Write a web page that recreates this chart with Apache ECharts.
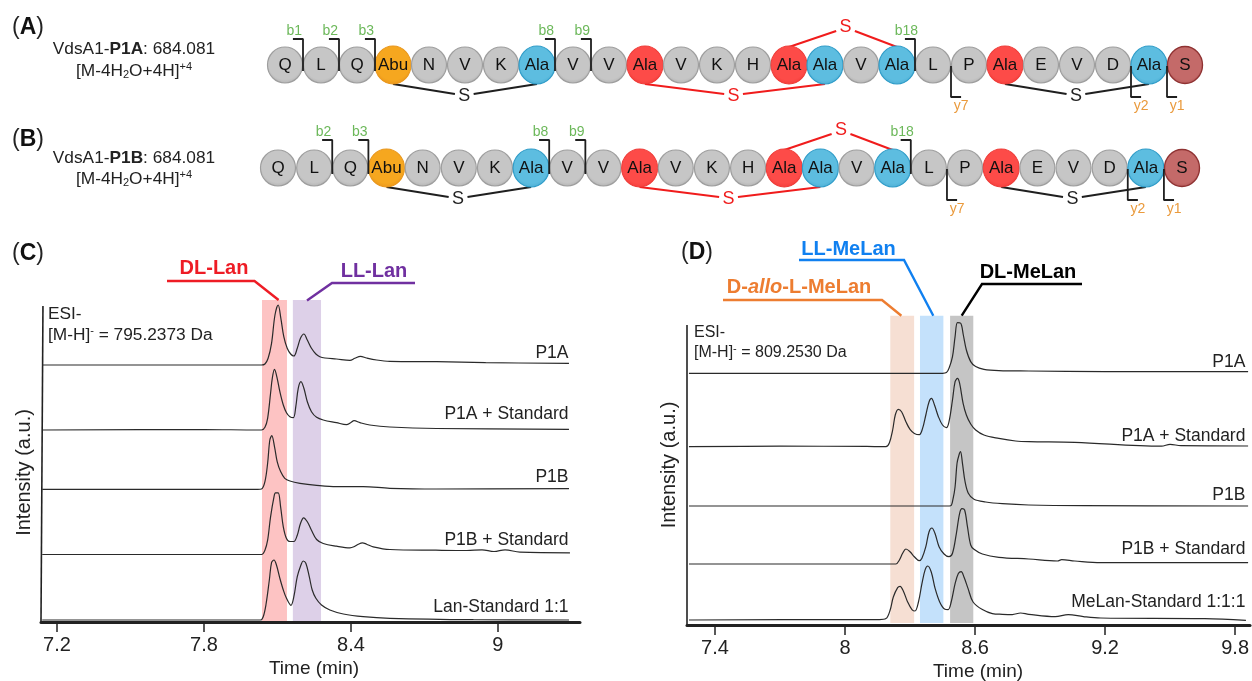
<!DOCTYPE html>
<html><head><meta charset="utf-8">
<style>html,body{margin:0;padding:0;background:#fff}#c{width:1252px;height:681px}</style>
<script src="https://cdn.jsdelivr.net/npm/echarts@6/dist/echarts.min.js"></script>
</head><body><div id="c"></div>
<script>
// ---------- Peptide schematic data ----------
const residues = ['Q','L','Q','Abu','N','V','K','Ala','V','V','Ala','V','K','H','Ala','Ala','V','Ala','L','P','Ala','E','V','D','Ala','S'];
const orangeIdx = [3];
const blueIdx = [7,15,17,24];
const redIdx = [10,14,20];
const brownIdx = [25];
const bridges = [
  {from:3, to:7, s:4.98, side:1, color:'#1f1f1f'},
  {from:10, to:15, s:12.46, side:1, color:'#f01c1c'},
  {from:14, to:17, s:15.57, side:-1, color:'#f01c1c'},
  {from:20, to:24, s:21.97, side:1, color:'#1f1f1f'}
];
const bIonsA = [['b1',0.5],['b2',1.5],['b3',2.5],['b8',7.5],['b9',8.5],['b18',17.5]];
const bIonsB = [['b2',1.5],['b3',2.5],['b8',7.5],['b9',8.5],['b18',17.5]];
const yIons = [['y7',18.5],['y2',23.5],['y1',24.5]];

// ---------- Panel C traces: [time (min), signal] ----------
const cTicks = [7.2,7.8,8.4,9];
const cNames = ['P1A','P1A + Standard','P1B','P1B + Standard','Lan-Standard 1:1'];
const cOffsets = [257,192,132.7,67.5,2];
const cLabelY = [269,208,145,82,15];
const cP1A = [[7.14,0],[7.8,0],[8.02,0],[8.035,0],[8.049,1],[8.062,6.7],[8.076,21.7],[8.09,50],[8.103,60],[8.114,46.7],[8.126,28.3],[8.14,16.7],[8.154,11],[8.167,9],[8.181,16.7],[8.194,26.7],[8.208,31],[8.222,25],[8.239,16.7],[8.257,11],[8.273,8.3],[8.294,7],[8.341,6],[8.396,4.7],[8.416,6.7],[8.439,8.7],[8.464,7],[8.505,5],[8.559,3.7],[8.75,3.3],[8.95,2.3],[9.29,1.7]];
const cP1AStd = [[7.14,0],[7.8,0.5],[8.02,0],[8.035,0],[8.049,2.7],[8.06,11.7],[8.072,36.7],[8.079,51.7],[8.088,60.7],[8.099,51.7],[8.11,38.3],[8.124,25],[8.137,17.3],[8.151,13.3],[8.165,12.3],[8.175,23.3],[8.185,41.7],[8.196,48.3],[8.208,41.7],[8.222,28.3],[8.239,18.3],[8.26,12.7],[8.287,10],[8.341,7.3],[8.382,5.3],[8.399,7.3],[8.413,9.3],[8.437,7.3],[8.477,5],[8.559,3],[8.75,1.5],[9.29,0.7]];
const cP1B = [[7.14,0],[7.8,0],[8.02,0],[8.035,0.3],[8.049,7.7],[8.06,26],[8.069,49.3],[8.077,53.7],[8.088,42.7],[8.099,27.7],[8.113,17.7],[8.13,11],[8.151,8.3],[8.192,6],[8.26,4],[8.341,2.7],[8.45,2.7],[8.559,1],[8.75,0.3],[9.29,0.7]];
const cP1BStd = [[7.14,0],[7.8,0],[8.02,0],[8.035,0],[8.049,4.3],[8.06,14.3],[8.072,37.7],[8.086,57.7],[8.092,61.7],[8.103,61.7],[8.113,47.7],[8.124,27.7],[8.137,16],[8.151,13],[8.167,13],[8.181,19.3],[8.194,31],[8.207,36.7],[8.222,32.7],[8.239,24.3],[8.26,15],[8.287,11],[8.341,8.3],[8.396,6.7],[8.412,7.7],[8.43,10.3],[8.447,11.7],[8.464,10.3],[8.491,7.7],[8.559,5],[8.747,4.3],[8.873,4],[8.935,4.7],[8.984,3],[9.029,4.7],[9.09,2.3],[9.294,1.7]];
const cStd = [[7.14,0],[7.8,0],[8.02,0],[8.031,0],[8.042,3.3],[8.053,15],[8.067,40],[8.076,57.3],[8.086,60],[8.096,55],[8.11,41.7],[8.124,30],[8.137,21.7],[8.155,14.7],[8.167,23.3],[8.181,43.3],[8.196,55],[8.205,59],[8.216,56.7],[8.23,43.3],[8.242,30],[8.257,21.7],[8.28,15],[8.314,10],[8.369,6],[8.45,3.3],[8.559,1.7],[8.9,0.3],[9.29,0]];
const cBands = [[8.037,8.139,'#fdc3c3'],[8.163,8.278,'#ddd0e8']];

// ---------- Panel D traces ----------
const dTicks = [7.4,8,8.6,9.2,9.8];
const dNames = ['P1A','P1A + Standard','P1B','P1B + Standard','MeLan-Standard 1:1:1'];
const dOffsets = [251.7,178.3,119,61,4.7];
const dLabelY = [263,189,130,76,23];
const dP1A = [[7.28,0],[7.9,0],[8.3,0],[8.45,0],[8.468,0.7],[8.48,5],[8.496,16.7],[8.508,36.7],[8.519,50.7],[8.534,50],[8.546,38.3],[8.56,23.3],[8.58,11.7],[8.603,6.7],[8.641,4],[8.71,2.7],[8.848,2.3],[9.2,1.7],[9.86,1.7]];
const dP1AStd = [[7.28,0],[7.7,0.5],[8.1,0.3],[8.175,0],[8.189,0],[8.205,4],[8.22,16.7],[8.232,31.7],[8.246,37.3],[8.261,35],[8.281,25],[8.3,17.3],[8.32,13.3],[8.343,12],[8.358,18.3],[8.373,31.7],[8.388,45],[8.399,48.3],[8.413,41.7],[8.431,30],[8.45,21.7],[8.468,19],[8.48,25],[8.496,46.7],[8.508,65],[8.519,68.3],[8.529,63.3],[8.545,43.3],[8.56,31.7],[8.58,22.7],[8.603,16.7],[8.641,11.7],[8.71,8.3],[8.787,5.7],[8.848,5],[9.06,4.4],[9.46,0.5],[9.5,2.4],[9.55,1],[9.86,0.7]];
const dP1B = [[7.28,0],[7.9,0],[8.3,0],[8.47,0],[8.488,0.3],[8.499,7.7],[8.508,19.3],[8.517,42.7],[8.526,51],[8.533,54.3],[8.542,42.7],[8.554,24.3],[8.569,12.7],[8.595,6.7],[8.649,4],[8.726,2.3],[8.848,1],[9.1,0.3],[9.86,0]];
const dP1BStd = [[7.28,0],[7.9,0],[8.22,0],[8.235,0],[8.251,4],[8.266,10.7],[8.281,15],[8.3,12.3],[8.32,7.3],[8.343,3.3],[8.355,5.7],[8.373,17.3],[8.388,32.3],[8.401,36],[8.415,30.7],[8.434,17.3],[8.457,10],[8.48,7.3],[8.496,10.7],[8.514,30.7],[8.529,50.7],[8.54,55.3],[8.552,54],[8.565,37.3],[8.58,19],[8.595,14.7],[8.634,10],[8.71,6.7],[8.848,5],[8.98,3],[9,4.3],[9.06,3],[9.18,1.3],[9.86,1.3]];
const dStd = [[7.28,0.3],[8,0.8],[8.159,0.7],[8.189,1.7],[8.208,10],[8.223,23.3],[8.243,32.7],[8.254,34],[8.269,29.3],[8.289,18.3],[8.309,10.7],[8.323,9.3],[8.339,18.3],[8.355,36.7],[8.37,50.7],[8.382,54.3],[8.398,48.3],[8.416,31.7],[8.437,18.3],[8.459,11.3],[8.476,10.7],[8.49,18.3],[8.508,36.7],[8.523,46.7],[8.536,48.7],[8.549,43.3],[8.568,31.7],[8.591,18.3],[8.634,10.7],[8.68,6.7],[8.726,6],[8.772,5.7],[8.81,7.3],[8.848,6],[8.97,3.7],[9.03,5.7],[9.1,3.7],[9.18,2.3],[9.66,1.7],[9.85,0]];
const dBands = [[8.209,8.319,'#f6dfd3'],[8.346,8.454,'#c4e1fb'],[8.485,8.592,'#c5c5c5']];

const FF = '"Liberation Sans", Arial, sans-serif';

// ---------- Residue styling ----------
function ball(inner, outer){
  return {type:'radial',x:0.5,y:0.42,r:0.62,colorStops:[{offset:0,color:inner},{offset:0.75,color:inner},{offset:1,color:outer}]};
}
function residueItem(name,i){
  let st = {color:ball('#c6c6c6','#adadad'),borderColor:'#9e9e9e',borderWidth:1.2}, size=[35,36];
  if(orangeIdx.includes(i)){st={color:ball('#f6a71f','#e8921a'),borderColor:'#e8961c',borderWidth:1};size=[36,38];}
  if(blueIdx.includes(i)){st={color:ball('#5dbde0','#48aad2'),borderColor:'#2f9cc8',borderWidth:1.2};size=[36,38];}
  if(redIdx.includes(i)){st={color:ball('#fd4b48','#f23a37'),borderColor:'#ee3c38',borderWidth:1};size=[36,38];}
  if(brownIdx.includes(i)){st={color:ball('#c46a69','#b25252'),borderColor:'#8f3232',borderWidth:1.4};size=[35,37];}
  st.opacity=1;
  return {value:[i,0],name:name,symbolSize:size,itemStyle:st};
}

// ---------- Assemble ----------
const grids = [
  {left:249,top:5,width:972,height:120},
  {left:241.84,top:108,width:976.32,height:120},
  {left:41,top:298,width:539,height:324},
  {left:687,top:315,width:565,height:310}
];
const hiddenX = (gi,min,max)=>({type:'value',gridIndex:gi,min,max,show:false});
const hiddenY = (gi,min,max,inv)=>({type:'value',gridIndex:gi,min,max,inverse:!!inv,show:false});
const timeAxis = (gi,min,max,ticks)=>({type:'value',gridIndex:gi,min,max,
  axisLine:{show:true,onZero:false,lineStyle:{color:'#222',width:3}},
  axisTick:{show:true,length:10,lineStyle:{color:'#222',width:1.5},customValues:ticks},
  axisLabel:{show:true,color:'#222',fontSize:20,fontFamily:FF,margin:13,customValues:ticks,formatter:v=>String(v)},
  splitLine:{show:false}});

const xAxes = [hiddenX(0,-1,26),hiddenX(1,-1,26),timeAxis(2,7.135,9.335,cTicks),timeAxis(3,7.271,9.869,dTicks)];
const yAxes = [hiddenY(0,-60,60,true),hiddenY(1,-60,60,true),hiddenY(2,0,324),hiddenY(3,0,310)];

const series = [];
function segLine(gi,data,color,width,z){
  series.push({type:'line',xAxisIndex:gi,yAxisIndex:gi,data,showSymbol:false,silent:true,z,clip:false,
    lineStyle:{color,width},animation:false,symbol:'none'});
}
function textMarks(gi,data,opt){
  series.push({type:'scatter',xAxisIndex:gi,yAxisIndex:gi,symbolSize:1,silent:true,z:opt.z||6,animation:false,clip:false,
    itemStyle:{color:'transparent',opacity:1},data,
    label:{show:true,position:opt.position||'inside',distance:0,formatter:p=>p.name,color:opt.color,fontFamily:FF,fontSize:opt.size}});
}
function peptideRow(gi,bIons,topOff){
  bridges.forEach(b=>{
    const hi=(b.side>0?29:-34), g=0.26;
    const l0 = b.side>0?19:-18;
    segLine(gi,[[b.from,l0],[b.s-g,hi]],b.color,2,2);
    segLine(gi,[[b.s+g,hi],[b.to,l0]],b.color,2,2);
  });
  const ss = bridges.map(b=>({name:'S',value:[b.s,b.side>0?31:-38],label:{color:b.color}}));
  textMarks(gi,ss,{size:18,color:'#1f1f1f'});
  series.push({type:'scatter',xAxisIndex:gi,yAxisIndex:gi,silent:true,z:3,animation:false,
    data:residues.map(residueItem),
    label:{show:true,position:'inside',formatter:p=>p.name,color:'#111',fontSize:17,fontFamily:FF}});
  bIons.forEach(([n,i])=>segLine(gi,[[i-0.28,topOff],[i,topOff],[i,6]],'#1f1f1f',1.8,5));
  yIons.forEach(([n,i])=>segLine(gi,[[i,1],[i,32],[i+0.28,32]],'#1f1f1f',1.8,5));
  textMarks(gi,bIons.map(([n,i])=>({name:n,value:[i-0.24,topOff-8]})),{size:14,color:'#6cb85a'});
  textMarks(gi,yIons.map(([n,i])=>({name:n,value:[i+0.28,41.5]})),{size:14,color:'#ea9a3c'});
}
peptideRow(0,bIonsA,-26);
peptideRow(1,bIonsB,-28);

function tracePanel(gi,bands,bandRange,axisLine,traces,offsets,names,labelT,labelY){
  series.push({type:'line',name:'axis',xAxisIndex:gi,yAxisIndex:gi,data:axisLine,showSymbol:false,symbol:'none',silent:true,z:1,animation:false,
    lineStyle:{color:'#222',width:1.6},
    markArea:{silent:true,animation:false,data:bands.map(b=>[{xAxis:b[0],yAxis:bandRange[0],itemStyle:{color:b[2],opacity:1}},{xAxis:b[1],yAxis:bandRange[1]}])}});
  traces.forEach((t,k)=>{
    series.push({type:'line',name:names[k],xAxisIndex:gi,yAxisIndex:gi,smooth:0.35,showSymbol:false,symbol:'none',silent:true,z:4,animation:false,
      lineStyle:{color:'#2a2a2a',width:1.2},
      data:t.map(p=>[p[0],p[1]+offsets[k]])});
  });
  textMarks(gi,names.map((n,k)=>({name:n,value:[labelT,labelY[k]]})),{size:17.5,color:'#222',position:'left'});
}
tracePanel(2,cBands,[1,322],[[7.135,0],[7.143,316]],[cP1A,cP1AStd,cP1B,cP1BStd,cStd],cOffsets,cNames,9.29,cLabelY);
tracePanel(3,dBands,[2,309.3],[[7.271,0],[7.271,300]],[dP1A,dP1AStd,dP1B,dP1BStd,dStd],dOffsets,dNames,9.85,dLabelY);

// ---------- Annotations ----------
const T=(o)=>({type:'text',z:10,style:Object.assign({fill:'#222',font:'17.3px '+FF,textAlign:'center',textVerticalAlign:'middle'},o)});
const PL=(pts,color)=>({type:'polyline',z:9,shape:{points:pts},style:{stroke:color,lineWidth:2.4,fill:null}});
const letter=(l,x,y)=>T({x,y,text:'({b|'+l+'})',font:'23px '+FF,textAlign:'left',rich:{b:{font:'bold 23px '+FF,fill:'#111'}}});
const richBase={b:{font:'bold 17.3px '+FF,fill:'#222'},sub:{font:'11px '+FF,fill:'#222',verticalAlign:'bottom',padding:[7,0,0,0]},sup:{font:'11px '+FF,fill:'#222',verticalAlign:'top',padding:[0,0,8,0]}};
const graphic=[
  letter('A',12,28),letter('B',12,140),letter('C',12,254),letter('D',681,253),
  T({x:134,y:49,text:'VdsA1-{b|P1A}: 684.081',rich:richBase}),
  T({x:134,y:71,text:'[M-4H{sub|2}O+4H]{sup|+4}',rich:richBase}),
  T({x:134,y:158,text:'VdsA1-{b|P1B}: 684.081',rich:richBase}),
  T({x:134,y:179,text:'[M-4H{sub|2}O+4H]{sup|+4}',rich:richBase}),
  T({x:48,y:314,text:'ESI-',textAlign:'left'}),
  T({x:48,y:335,text:'[M-H]{sup|-} = 795.2373 Da',textAlign:'left',rich:richBase}),
  T({x:694,y:333,text:'ESI-',textAlign:'left',font:'16px '+FF}),
  T({x:694,y:353,text:'[M-H]{sup|-} = 809.2530 Da',textAlign:'left',font:'16px '+FF,rich:richBase}),
  PL([[167,281],[254.5,281],[278.6,300]],'#ee1c25'),
  PL([[307,300.6],[332,283],[415,283]],'#7030a0'),
  T({x:214,y:268,text:'DL-Lan',font:'bold 20px '+FF,fill:'#ee1c25'}),
  T({x:374,y:271,text:'LL-Lan',font:'bold 20px '+FF,fill:'#7030a0'}),
  PL([[799,260],[904,260],[933.3,315.7]],'#1080f0'),
  PL([[723,300],[882,300],[901.4,315.7]],'#ed7d31'),
  PL([[1082,284],[982,284],[961.7,315.7]],'#000'),
  T({x:848.5,y:249,text:'LL-MeLan',font:'bold 20px '+FF,fill:'#1080f0'}),
  T({x:799,y:287,text:'D-{i|allo}-L-MeLan',font:'bold 20px '+FF,fill:'#ed7d31',rich:{i:{font:'italic bold 20px '+FF,fill:'#ed7d31'}}}),
  T({x:1028,y:272,text:'DL-MeLan',font:'bold 20px '+FF,fill:'#000'}),
  T({x:314,y:669,text:'Time (min)',font:'19px '+FF}),
  T({x:978,y:672,text:'Time (min)',font:'19px '+FF}),
  Object.assign(T({text:'Intensity (a.u.)',font:'20px '+FF}),{x:24,y:472.5,rotation:Math.PI/2}),
  Object.assign(T({text:'Intensity (a.u.)',font:'20px '+FF}),{x:669,y:465,rotation:Math.PI/2})
];

const chart = echarts.init(document.getElementById('c'),null,{renderer:'canvas'});
chart.setOption({animation:false,backgroundColor:'#fff',textStyle:{fontFamily:FF},grid:grids,xAxis:xAxes,yAxis:yAxes,series,graphic});
</script></body></html>
